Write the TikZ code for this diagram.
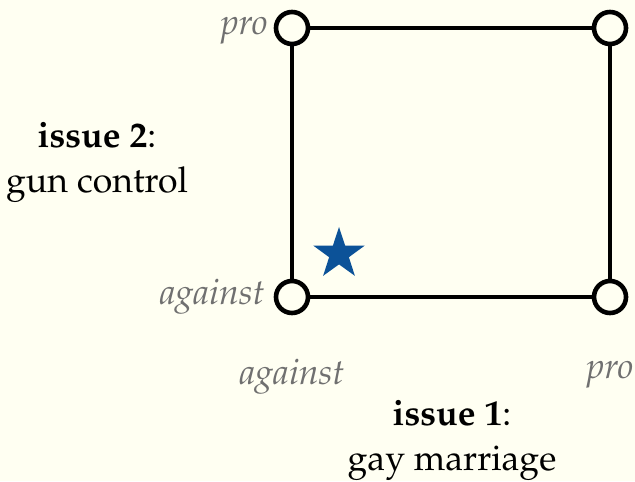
\documentclass[tikz,border=0pt]{standalone}
\usepackage[T1]{fontenc}
\usepackage{mathpazo}
\usepackage{tikz}
\usetikzlibrary{positioning,shapes.geometric}
\definecolor{bgcream}{RGB}{255,255,242}
\definecolor{labelgray}{RGB}{112,112,112}
\definecolor{starblue}{RGB}{12,82,152}

\begin{document}
\begin{tikzpicture}[x=0.5pt,y=0.5pt,font=\fontsize{17.8}{22.8}\selectfont]
\tikzstyle{pole}=[circle,draw,line width=2.3pt,fill=bgcream,minimum size=16pt,inner sep=0pt]
\tikzstyle{edge}=[line width=2.3pt]
\tikzstyle{side}=[text=labelgray,font=\fontsize{17.8}{22.8}\selectfont\itshape,inner sep=0pt]
\tikzstyle{issue}=[align=center,inner sep=0pt]
\fill[bgcream] (0,0) rectangle (635,481);
\useasboundingbox (0,0) rectangle (635,481);
\node[pole] (bl) at (292,184) {};
\node[pole] (tl) at (292,453) {};
\node[pole] (tr) at (610,453) {};
\node[pole] (br) at (610,184) {};
\draw[edge] (bl)--(tl);
\draw[edge] (tl)--(tr);
\draw[edge] (tr)--(br);
\draw[edge] (br)--(bl);
\node[star,star points=5,star point ratio=2.6,fill=starblue,minimum size=27pt,inner sep=0pt] (mark) at (339,227) {};
\node[side,anchor=base east] (tlpro) at (268,446) {pro};
\node[side,anchor=base east] (blagainst) at (265,176) {against};
\node[side,anchor=base] (xagainst) at (292,97) {against};
\node[side,anchor=base] (xpro) at (610,103) {pro};
\node[issue,anchor=north] (issueone) at (452,81) {\textbf{issue 1}:\\gay marriage};
\node[issue,anchor=north] (issuetwo) at (97,359) {\textbf{issue 2}:\\gun control};
\end{tikzpicture}
\end{document}
